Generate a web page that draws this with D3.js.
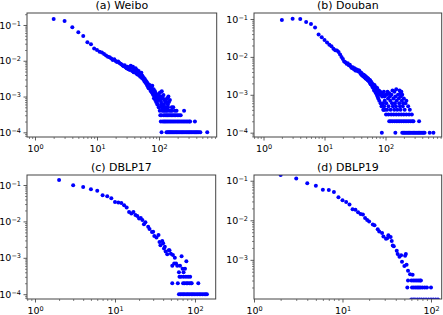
<!DOCTYPE html>
<html><head><meta charset="utf-8">
<script src="https://cdn.jsdelivr.net/npm/d3@7"></script>
<style>body{margin:0;background:#fff} svg{display:block} text{font-family:"DejaVu Sans",sans-serif;fill:#000}</style>
</head><body><svg id="c" width="443" height="315"></svg>
<script>
const titles = ["(a) Weibo", "(b) Douban", "(c) DBLP17", "(d) DBLP19"];
const xTickValues = [1, 10, 100];
const yTickValuesFull = [1e-4, 1e-3, 1e-2, 1e-1];
const yTickValuesD = [1e-3, 1e-2, 1e-1];

// (degree, probability) pairs
const weibo = [
[2,.147],[3,.13],[4,.086],[5,.063],[6,.049],[7,.033],[8,.029],[9,.022],
[10,.020],[11,.018],[12,.017],[13,.0155],[14,.014],[15,.013],[16,.0125],[17,.0115],[18,.0105],[19,.011],
[20,.0098],[21,.0092],[22,.0095],[23,.0086],[24,.0082],[25,.0078],[26,.0074],[27,.0070],[28,.0075],[29,.0066],
[30,.0062],[31,.0068],[32,.0058],[33,.0061],[34,.0055],[35,.0072],[36,.0065],[37,.0052],[38,.0068],[39,.0048],
[40,.0058],[41,.0050],[42,.0062],[43,.0044],[44,.0055],[45,.0041],[46,.0048],[47,.0052],[48,.0039],[49,.0045],
[50,.0036],[51,.0042],[52,.0046],[53,.0033],[54,.0038],[55,.0035],[56,.0030],[57,.0033],[58,.0027],[59,.0031],
[60,.0025],[61,.0028],[62,.0023],[63,.0026],[64,.0021],[65,.0024],[66,.0019],[67,.0022],[68,.0017],[69,.0020],
[70,.0018],[71,.0021],[72,.0016],[73,.0019],[74,.0014],[75,.0015],[76,.0017],[77,.0013],[78,.0020],[79,.0012],
[80,.0014],[81,.0011],[82,.0016],[83,.0009],[84,.0012],[85,.0010],[86,.0014],[87,.0008],[88,.0009],[89,.0012],
[90,.0007],[91,.0010],[92,.0011],[93,.0007],[94,.0006],[95,.0010],[96,.0006],[97,.0008],[98,.0009],[99,.0005],[100,.0012],
[104,.0013],[111,.0014],[118,.0011],
[102,.001],[113,.001],[142,.001],[104,.0009],[116,.0009],[135,.0009],
[106,.0008],[122,.0008],[128,.0008],[150,.0008],[108,.0007],[126,.0007],[133,.0007],[145,.0007],
[110,.0006],[114,.0006],[120,.0006],[139,.0006],
[101,.0005],[111,.0005],[117,.0005],[123,.0005],[129,.0005],[140,.0005],[161,.0005],[170,.0005],
[103,.0004],[112,.0004],[118,.0004],[124,.0004],[130,.0004],[136,.0004],[146,.0004],[155,.0004],[163,.0004],[180,.0004],[192,.0004],[254,.0004],
[105,.0003],[109,.0003],[119,.0003],[125,.0003],[131,.0003],[137,.0003],[144,.0003],[151,.0003],[158,.0003],[167,.0003],[176,.0003],[186,.0003],[197,.0003],[210,.0003],[224,.0003],
[107,.0002],[115,.0002],[121,.0002],[127,.0002],[134,.0002],[141,.0002],[149,.0002],[157,.0002],[166,.0002],[175,.0002],[185,.0002],[196,.0002],[207,.0002],[219,.0002],[232,.0002],[245,.0002],[259,.0002],[274,.0002],[290,.0002],[306,.0002],[318,.0002],[380,.0002],
[110,.0001],[132,.0001],[138,.0001],[143,.0001],[148,.0001],[153,.0001],[159,.0001],[165,.0001],[172,.0001],[179,.0001],[187,.0001],[194,.0001],[202,.0001],[211,.0001],[220,.0001],[230,.0001],[240,.0001],[251,.0001],[262,.0001],[274,.0001],[286,.0001],[299,.0001],[312,.0001],[326,.0001],[340,.0001],[355,.0001],[371,.0001],[388,.0001],[405,.0001],[423,.0001],[442,.0001],[465,.0001],[600,.0001]
];

const douban = [
[2,.094],[3,.102],[4,.100],[5,.083],[6,.074],[7,.060],[8,.039],[9,.033],[10,.028],[11,.024],[12,.021],[13,.019],[14,.0165],[15,.015],[16,.0148],[17,.0135],[18,.0115],[19,.0100],
[20,.0088],[21,.0075],[22,.0072],[23,.0066],[24,.0068],[25,.0060],[26,.0062],[27,.0055],[28,.0051],[29,.0053],[30,.0048],[31,.0050],[32,.0044],[33,.0047],[34,.0043],[35,.0045],[36,.0041],[37,.0044],[38,.0040],[39,.0036],
[40,.0038],[41,.0033],[42,.0035],[43,.0031],[44,.0034],[45,.0029],[46,.0032],[47,.0027],[48,.0030],[49,.0026],[50,.0028],[51,.0024],[52,.0027],[53,.0023],[54,.0025],[55,.0021],[56,.0024],[57,.0019],[58,.0022],[59,.0018],
[60,.0020],[61,.0016],[62,.0019],[63,.0015],[64,.0017],[65,.0013],[66,.0018],[67,.0014],[68,.0012],[69,.0016],[70,.0011],[71,.0013],[72,.0010],[73,.0015],[74,.0009],[75,.0012],[76,.0008],[77,.0011],[78,.0013],[79,.0007],
[80,.0010],[82,.0012],[83,.0006],[85,.0011],[86,.0005],[87,.0001],[88,.0009],[90,.0010],[91,.0006],[93,.0004],[94,.0012],[96,.0009],[98,.0004],[100,.0010],
[150,.0014],[130,.0013],[170,.0013],[108,.0012],[140,.0012],[182,.0012],[115,.0011],[175,.0011],
[105,.001],[125,.001],[160,.001],[188,.001],[118,.0009],[145,.0009],[178,.0009],
[110,.0008],[135,.0008],[165,.0008],[200,.0008],
[97,.0007],[120,.0007],[152,.0007],[185,.0007],[220,.0007],
[103,.0006],[128,.0006],[142,.0006],[168,.0006],[195,.0006],[212,.0006],
[95,.0005],[112,.0005],[132,.0005],[148,.0005],[172,.0005],[192,.0005],[235,.0005],
[92,.0004],[106,.0004],[121,.0004],[139,.0004],[156,.0004],[176,.0004],[206,.0004],[250,.0004],
[102,.0003],[112,.0003],[124,.0003],[136,.0003],[150,.0003],[165,.0003],[181,.0003],[199,.0003],[220,.0003],[243,.0003],[270,.0003],
[115,.0002],[122,.0002],[130,.0002],[140,.0002],[150,.0002],[160,.0002],[171,.0002],[183,.0002],[196,.0002],[209,.0002],[224,.0002],[240,.0002],[257,.0002],[274,.0002],[287,.0002],[355,.0002],
[145,.0001],[188,.0001],[197,.0001],[206,.0001],[216,.0001],[226,.0001],[237,.0001],[248,.0001],[260,.0001],[273,.0001],[286,.0001],[300,.0001],[315,.0001],[330,.0001],[346,.0001],[362,.0001],[380,.0001],[398,.0001],[417,.0001],[437,.0001],[530,.0001],[610,.0001]
];

const dblp17 = [
[2,.137],[3,.098],[4,.088],[5,.076],[6,.069],[7,.052],[8,.049],[9,.043],[10,.034],[11,.033],[12,.032],[13,.028],[14,.024],[15,.018],[16,.0166],[17,.018],[18,.015],[19,.014],
[20,.012],[21,.0125],[22,.011],[23,.0083],[24,.0095],[26,.0071],[27,.0062],[29,.0051],[30,.0052],[31,.0040],[33,.0036],[35,.0042],[36,.0027],[37,.0022],[39,.0029],
[40,.0025],[41,.0018],[42,.0020],[43,.0015],[45,.00125],[47,.0016],[48,.0016],[50,.0013],[52,.0006],[53,.0012],[55,.0007],[56,.0010],[58,.0007],[60,.0006],[63,.0004],[65,.0006],[68,.0011],[70,.0005],[72,.0004],[75,.0005],[78,.0008],
[64,.0003],[67,.0003],[72,.0003],[77,.0003],[82,.0003],[87,.0003],
[52,.0002],[61,.0002],[71,.0002],[74,.0002],[78,.0002],[81,.0002],[85,.0002],[89,.0002],[91,.0002],[110,.0002],
[63,.0001],[66,.0001],[69,.0001],[72,.0001],[75,.0001],[79,.0001],[82,.0001],[86,.0001],[90,.0001],[94,.0001],[98,.0001],[103,.0001],[108,.0001],[113,.0001],[118,.0001],[124,.0001],[130,.0001],[136,.0001],[141,.0001]
];

const dblp19 = [
[2,.14],[3,.114],[4,.086],[5,.075],[6,.059],[7,.058],[8,.052],[9,.038],[10,.032],[11,.029],[12,.025],[13,.019],[14,.0185],[15,.016],[16,.0145],[17,.014],[18,.0115],[19,.0102],
[20,.0093],[22,.0078],[23,.0075],[25,.0059],[26,.0052],[28,.0048],[29,.0039],[31,.0034],[32,.0035],[33,.0042],[35,.0038],[36,.0030],[37,.0023],[38,.0022],
[41,.0017],[42,.0014],[44,.0012],[46,.0013],[47,.00089],[50,.0007],[51,.00126],[52,.0014],[53,.00075],[55,.00053],[58,.00043],[62,.00042],
[55,.0003],[60,.0003],[63,.0003],[66,.0003],[69,.0003],[72,.0003],[75,.0003],[77,.0003],
[54,.0002],[61,.0002],[64,.0002],[67,.0002],[70,.0002],[73,.0002],[76,.0002],[80,.0002],[85,.0002],[90,.0002],[100,.0002],
[60,.0001],[63,.0001],[66,.0001],[70,.0001],[74,.0001],[78,.0001],[83,.0001],[88,.0001],[94,.0001],[100,.0001],[106,.0001],[113,.0001],[120,.0001]
];

const datasets = [weibo, douban, dblp17, dblp19];

const frames = [
  {l:27,  r:216.7, t:13,  b:137, xd:[-0.129, 2.931], yd:[-4.131, -0.665], yt:yTickValuesFull},
  {l:254, r:441.7, t:13,  b:137, xd:[-0.156, 2.921], yd:[-4.114, -0.842], yt:yTickValuesFull},
  {l:27,  r:215.7, t:175, b:299, xd:[-0.100, 2.259], yd:[-4.132, -0.725], yt:yTickValuesFull},
  {l:254, r:441.7, t:175, b:299, xd:[0, 2.121],      yd:[-3.99, -0.855],  yt:yTickValuesD}
];

const svg = d3.select("#c");

function minorTicks(dom) {
  const out = [];
  const lo = Math.floor(dom[0]), hi = Math.ceil(dom[1]);
  for (let k = lo; k <= hi; k++) for (let m = 2; m <= 9; m++) {
    const v = m * Math.pow(10, k);
    const lv = Math.log10(v);
    if (lv >= dom[0] && lv <= dom[1]) out.push(v);
  }
  return out;
}

function labelTicks(sel) {
  sel.selectAll(".tick text").each(function(d) {
    const t = d3.select(this);
    const e = Math.round(Math.log10(d));
    t.text(null);
    t.append("tspan").text("10");
    t.append("tspan").attr("font-size", "6.5px").attr("dy", "-0.45em")
      .text(String(e).replace("-", "\u2212"));
  });
}

frames.forEach((f, i) => {
  const w = f.r - f.l, h = f.b - f.t;
  const x = d3.scaleLog().domain(f.xd.map(v => Math.pow(10, v))).range([0, w]);
  const y = d3.scaleLog().domain(f.yd.map(v => Math.pow(10, v))).range([h, 0]);
  const g = svg.append("g").attr("transform", `translate(${f.l},${f.t})`);

  g.append("clipPath").attr("id", "clip" + i).append("rect").attr("width", w).attr("height", h);

  g.append("g").attr("clip-path", `url(#clip${i})`)
    .selectAll("circle").data(datasets[i]).join("circle")
    .attr("cx", d => x(d[0])).attr("cy", d => y(d[1])).attr("r", 2)
    .attr("fill", "#0000ff");

  const gxm = g.append("g").attr("transform", `translate(0,${h})`)
    .call(d3.axisBottom(x).tickValues(minorTicks(f.xd)).tickSize(2).tickFormat(""));
  const gx = g.append("g").attr("transform", `translate(0,${h})`)
    .call(d3.axisBottom(x).tickValues(xTickValues).tickSize(3.5).tickPadding(5));
  const gym = g.append("g")
    .call(d3.axisLeft(y).tickValues(minorTicks(f.yd)).tickSize(2).tickFormat(""));
  const gy = g.append("g")
    .call(d3.axisLeft(y).tickValues(f.yt).tickSize(3.5).tickPadding(2.5));

  [gxm, gx, gym, gy].forEach(a => {
    a.select(".domain").remove();
    a.selectAll(".tick line").attr("stroke", "#333").attr("stroke-width", 0.8);
  });
  [gxm, gym].forEach(a => a.selectAll(".tick line").attr("stroke-width", 0.6));
  [gx, gy].forEach(a => a.selectAll(".tick text").attr("font-size", "9.5px").attr("font-family", "DejaVu Sans").attr("fill", "#000"));
  labelTicks(gx);
  labelTicks(gy);

  g.append("rect").attr("width", w).attr("height", h)
    .attr("fill", "none").attr("stroke", "#444").attr("stroke-width", 1);

  g.append("text").attr("x", w / 2).attr("y", -4).attr("text-anchor", "middle")
    .attr("font-size", "11px").text(titles[i]);
});
</script></body></html>
